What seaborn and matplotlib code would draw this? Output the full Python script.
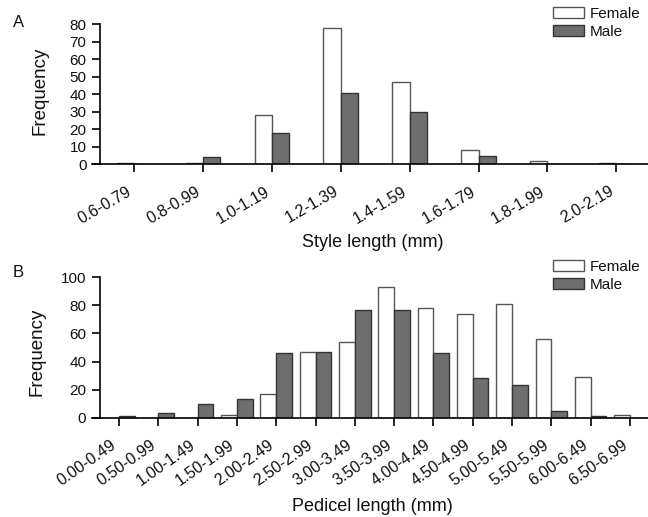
import matplotlib
matplotlib.use('Agg')
import matplotlib.pyplot as plt
from matplotlib.patches import Patch
import pandas as pd
import seaborn as sns

# Panel A: style length classes
style_bins = ['0.6-0.79', '0.8-0.99', '1.0-1.19', '1.2-1.39',
              '1.4-1.59', '1.6-1.79', '1.8-1.99', '2.0-2.19']
style_female = [1, 1, 28, 78, 47, 8, 2, 1]
style_male = [0, 4, 18, 41, 30, 5, 0, 0]

# Panel B: pedicel length classes
pedicel_bins = ['0.00-0.49', '0.50-0.99', '1.00-1.49', '1.50-1.99', '2.00-2.49',
                '2.50-2.99', '3.00-3.49', '3.50-3.99', '4.00-4.49', '4.50-4.99',
                '5.00-5.49', '5.50-5.99', '6.00-6.49', '6.50-6.99']
pedicel_female = [0, 0, 0, 2, 17, 47, 54, 93, 78, 74, 81, 56, 29, 2]
pedicel_male = [1, 3, 10, 13, 46, 47, 77, 77, 46, 28, 23, 5, 1, 0]

sexes = ['Female', 'Male']
fill = {'Female': 'white', 'Male': '#6e6e6e'}
edge = {'Female': '#555555', 'Male': '#333333'}

W, H = 648, 517

sns.set_style('ticks')
plt.rcParams['font.family'] = ['Liberation Sans', 'DejaVu Sans']
plt.rcParams['text.color'] = '#111111'
plt.rcParams['axes.labelcolor'] = '#111111'
plt.rcParams['xtick.labelcolor'] = '#111111'
plt.rcParams['ytick.labelcolor'] = '#111111'


def to_long(bins, female, male):
    return pd.DataFrame({
        'bin': bins + bins,
        'sex': ['Female'] * len(bins) + ['Male'] * len(bins),
        'count': female + male,
    })


def draw_panel(ax, bins, female, male, width, xlim, spine_x, ymax, ystep,
               rot, xlabel, xlab_y, ylab_x, ylab_y, legend_box):
    df = to_long(bins, female, male)
    sns.barplot(data=df, x='bin', y='count', hue='sex', hue_order=sexes,
                order=bins, palette=fill, width=width, saturation=1,
                linewidth=1.0, legend=False, ax=ax)
    for cont, s in zip(ax.containers, sexes):
        for bar in cont:
            bar.set_edgecolor(edge[s])

    ax.set_xlim(*xlim)
    ax.set_ylim(0, ymax)
    ax.set_yticks(range(0, ymax + 1, ystep))
    ax.spines['left'].set_position(('data', spine_x))
    ax.spines['top'].set_visible(False)
    ax.spines['right'].set_visible(False)
    for sp in ('left', 'bottom'):
        ax.spines[sp].set_color('black')
        ax.spines[sp].set_linewidth(1.2)
        ax.spines[sp].set_zorder(5)

    ax.tick_params(axis='x', direction='out', length=6, width=1.2,
                   color='black', pad=8, labelsize=11.5)
    ax.tick_params(axis='y', direction='out', length=6, width=1.2,
                   color='black', pad=4, labelsize=11)
    plt.setp(ax.get_xticklabels(), rotation=rot, ha='right')

    ax.set_xlabel(xlabel, fontsize=13)
    ax.xaxis.set_label_coords(0.505, xlab_y)
    ax.set_ylabel('Frequency', fontsize=13.5)
    ax.yaxis.set_label_coords(ylab_x, ylab_y)

    handles = [Patch(facecolor=fill[s], edgecolor=edge[s], linewidth=1.0, label=s)
               for s in sexes]
    ax.legend(handles=handles, loc='upper left', bbox_to_anchor=legend_box,
              bbox_transform=fig.transFigure, frameon=False, fontsize=11,
              borderpad=0, borderaxespad=0, handlelength=2.0,
              handleheight=0.75, handletextpad=0.4, labelspacing=0.25)


fig = plt.figure(figsize=(W / 100, H / 100), dpi=100)

ax_a = fig.add_axes([92 / W, 1 - 164.3 / H, 556 / W, 140 / H])
draw_panel(ax_a, style_bins, style_female, style_male, 0.5,
           (-0.61, 7.46), -0.49, 80, 10, 30, 'Style length (mm)',
           -0.5, -0.079, 0.527, (553 / W, 1 - 7 / H))

ax_b = fig.add_axes([92 / W, 1 - 417.7 / H, 556 / W, 140.4 / H])
draw_panel(ax_b, pedicel_bins, pedicel_female, pedicel_male, 0.8,
           (-0.687, 13.46), -0.483, 100, 20, 35, 'Pedicel length (mm)',
           -0.575, -0.084, 0.47, (553 / W, 1 - 260 / H))

fig.text(13 / W, 1 - 15 / H, 'A', fontsize=12, ha='left', va='top')
fig.text(13 / W, 1 - 265 / H, 'B', fontsize=12, ha='left', va='top')

fig.savefig('out.png', dpi=100)
